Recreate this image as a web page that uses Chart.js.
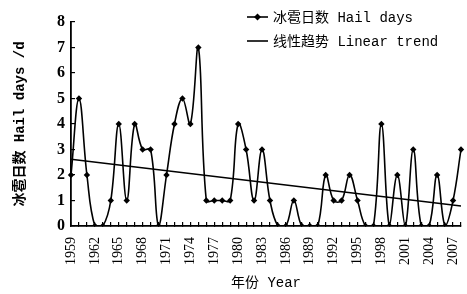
<!DOCTYPE html>
<html><head><meta charset="utf-8">
<script src="https://cdn.jsdelivr.net/npm/chart.js@4/dist/chart.umd.min.js"></script>
<style>html,body{margin:0;padding:0;background:#fff}</style>
</head><body>
<canvas id="c" width="467" height="294"></canvas>
<script>
// ---- data ----
const years = ['1959','1960','1961','1962','1963','1964','1965','1966','1967','1968',
               '1969','1970','1971','1972','1973','1974','1975','1976','1977','1978',
               '1979','1980','1981','1982','1983','1984','1985','1986','1987','1988',
               '1989','1990','1991','1992','1993','1994','1995','1996','1997','1998',
               '1999','2000','2001','2002','2003','2004','2005','2006','2007','2008'];
const hailDays = [2,5,2,0,0,1,4,1,4,3,
                  3,0,2,4,5,4,7,1,1,1,
                  1,4,3,1,3,1,0,0,1,0,
                  0,0,2,1,1,2,1,0,0,4,
                  0,2,0,3,0,0,2,0,1,3];
const trendStart = 2.62;   // trend line value at the first year
const trendEnd = 0.78;     // trend line value at the last year
const seriesNames = ['冰雹日数 Hail days', '线性趋势 Linear trend'];
const shownYearLabels = ['1959','1962','1965','1968','1971','1974','1977','1980','1983',
                         '1986','1989','1992','1995','1998','2001','2004','2007'];
const yTickValues = [0,1,2,3,4,5,6,7,8];
const xTitle = '年份 Year';
const yTitle = '冰雹日数 Hail days /d';

const trendData = years.map((_, i) => i === 0 ? trendStart : (i === years.length - 1 ? trendEnd : null));

const SERIF = "'Liberation Serif','Noto Sans CJK SC',serif";
const MONO = "'Liberation Mono','Noto Sans CJK SC',monospace";

const legendPlugin = {
  id: 'insideLegend',
  afterDraw(chart) {
    const ctx = chart.ctx;
    ctx.save();
    chart.data.datasets.forEach((ds, i) => {
      const y = 17 + i * 24;
      ctx.strokeStyle = '#000';
      ctx.lineWidth = 1.6;
      ctx.beginPath(); ctx.moveTo(247, y); ctx.lineTo(268, y); ctx.stroke();
      if (ds.pointRadius > 0) {
        ctx.fillStyle = '#000';
        ctx.beginPath();
        ctx.moveTo(257.5, y - 3.5); ctx.lineTo(261, y); ctx.lineTo(257.5, y + 3.5); ctx.lineTo(254, y);
        ctx.closePath(); ctx.fill();
      }
      ctx.fillStyle = '#000';
      ctx.font = '14px ' + MONO;
      ctx.textBaseline = 'middle';
      ctx.textAlign = 'left';
      ctx.fillText(ds.label, 273, y + 1);
    });
    ctx.restore();
  }
};

new Chart(document.getElementById('c'), {
  type: 'line',
  data: {
    labels: years,
    datasets: [
      {
        label: seriesNames[0],
        data: hailDays,
        borderColor: '#000',
        backgroundColor: '#000',
        borderWidth: 1.6,
        tension: 0.4,
        pointStyle: 'rectRot',
        pointRadius: 3.2,
        pointBackgroundColor: '#000',
        pointBorderWidth: 0,
        fill: false
      },
      {
        label: seriesNames[1],
        data: trendData,
        borderColor: '#000',
        borderWidth: 1.5,
        pointRadius: 0,
        spanGaps: true,
        tension: 0,
        fill: false
      }
    ]
  },
  options: {
    responsive: false,
    animation: false,
    devicePixelRatio: 1,
    layout: { padding: { top: 22, right: 6, left: 0, bottom: 0 } },
    plugins: { legend: { display: false }, tooltip: { enabled: false } },
    scales: {
      x: {
        type: 'category',
        offset: false,
        afterFit(s) { s.height = 68; s.paddingRight = 0; s.paddingLeft = 0; },
        grid: { drawOnChartArea: false, drawTicks: true, tickLength: -4, color: '#000', lineWidth: 1.2 },
        border: { display: true, color: '#000', width: 1.8 },
        ticks: {
          autoSkip: false,
          minRotation: 90, maxRotation: 90,
          padding: 15,
          color: '#000',
          font: { family: SERIF, size: 14 },
          callback(v) { const l = this.getLabelForValue(v); return shownYearLabels.includes(l) ? l : ''; }
        },
        title: { display: true, text: xTitle, color: '#000', font: { family: MONO, size: 14 }, padding: { top: 0, bottom: 2 } }
      },
      y: {
        min: yTickValues[0], max: yTickValues[yTickValues.length - 1],
        afterFit(s) { s.width = 71; s.paddingTop = 0; s.paddingBottom = 0; },
        afterBuildTicks(s) { s.ticks = yTickValues.map(v => ({ value: v })); },
        grid: { drawOnChartArea: false, drawTicks: true, tickLength: -4, color: '#000', lineWidth: 1.2 },
        border: { display: true, color: '#000', width: 1.8 },
        ticks: { padding: 10, color: '#000', font: { family: SERIF, size: 16, weight: 'bold' } },
        title: { display: true, text: yTitle, color: '#000', font: { family: MONO, size: 14, weight: 'bold' }, padding: { top: 12, bottom: 0 } }
      }
    }
  },
  plugins: [legendPlugin]
});
</script>
</body></html>
